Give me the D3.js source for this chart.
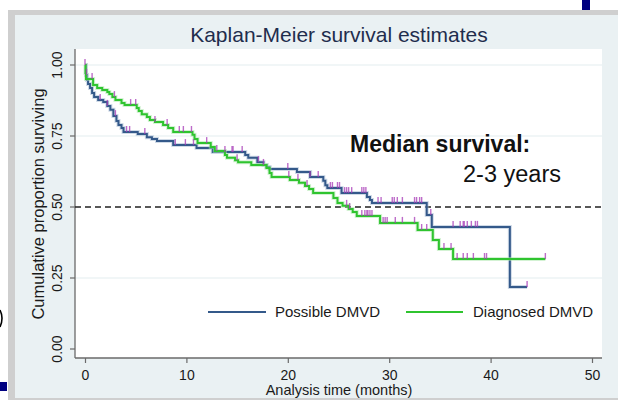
<!DOCTYPE html>
<html>
<head>
<meta charset="utf-8">
<script src="https://cdn.jsdelivr.net/npm/d3@7/dist/d3.min.js"></script>
<style>
  body { margin: 0; background: #fff; }
  svg { display: block; font-family: Arial, "Liberation Sans", sans-serif; }
</style>
</head>
<body>
<div id="chart"></div>
<script>
// Kaplan-Meier steps: time (months) where the curve drops, survival after the drop
const possibleTimes = [0, 0.1, 0.2, 0.3, 0.5, 0.7, 0.9, 1.3, 1.8, 2.2, 2.5, 2.8, 3.1, 3.3, 3.6, 3.8, 5.2, 6.1, 6.6, 7.1, 8.7,
  11.0, 12.6, 15.8, 16.1, 17.0, 17.6, 17.9, 18.2, 20.9, 22.2, 23.5, 23.7, 23.9, 25.3, 27.8, 28.1, 28.3, 33.7, 34.2, 41.9, 43.6];
const possibleSurv = [1, 0.965, 0.947, 0.933, 0.919, 0.901, 0.887, 0.877, 0.870, 0.856, 0.842, 0.820, 0.803, 0.789, 0.778, 0.764, 0.757, 0.746, 0.739, 0.732, 0.718,
  0.708, 0.694, 0.683, 0.673, 0.658, 0.648, 0.641, 0.634, 0.623, 0.606, 0.592, 0.577, 0.567, 0.549, 0.535, 0.525, 0.514, 0.472, 0.430, 0.218, 0.218];
const possibleCensored = [0.15, 1.5, 2.2, 3.0, 4.1, 4.4, 5.9, 8.9, 9.9, 10.7, 13.8, 14.5, 14.6, 15.5, 17.1, 17.6, 20.0, 22.2, 23.0,
  24.2, 24.4, 24.9, 25.1, 25.6, 25.8, 26.0, 26.3, 27.3, 27.5, 27.7, 28.9, 29.2, 30.3, 30.5, 30.8, 31.3, 32.5, 32.7, 33.0, 33.2,
  34.1, 36.3, 37.0, 37.3, 37.4, 37.7, 38.1, 38.5, 38.7, 43.6];

const diagnosedTimes = [0, 0.05, 0.1, 0.8, 1.2, 1.7, 2.2, 2.4, 2.7, 3.0, 3.6, 3.9, 5.1, 5.3, 5.6, 6.1, 6.4, 6.9, 7.7, 8.2, 8.7,
  10.6, 10.8, 11.1, 12.4, 12.8, 13.8, 14.0, 14.8, 15.1, 16.4, 17.9, 18.2, 18.4, 20.2, 21.1, 21.7, 22.1, 22.5, 24.5, 24.9, 25.4,
  26.0, 26.4, 26.8, 29.1, 32.8, 34.3, 34.9, 36.3, 45.4];
const diagnosedSurv = [1, 0.972, 0.951, 0.930, 0.919, 0.912, 0.905, 0.898, 0.887, 0.877, 0.866, 0.859, 0.849, 0.838, 0.827, 0.817, 0.806, 0.799, 0.789, 0.778, 0.764,
  0.754, 0.739, 0.725, 0.711, 0.697, 0.683, 0.673, 0.665, 0.658, 0.648, 0.637, 0.620, 0.606, 0.595, 0.585, 0.574, 0.563, 0.549, 0.532, 0.514, 0.504,
  0.493, 0.482, 0.468, 0.444, 0.419, 0.384, 0.352, 0.317, 0.317];
const diagnosedCensored = [0.0, 0.7, 2.9, 4.5, 5.0, 6.9, 8.1, 9.3, 9.7, 10.5, 12.0, 13.0, 15.0, 20.1, 21.0, 21.9, 25.8, 26.1,
  27.3, 27.6, 27.8, 27.9, 28.1, 28.3, 29.4, 29.6, 29.8, 30.6, 31.3, 32.5, 33.2, 33.7, 35.4, 36.1, 36.7, 37.3, 37.7, 38.3,
  39.4, 39.6, 45.4];

const xTicks = [0, 10, 20, 30, 40, 50];
const yTicks = [0, 0.25, 0.5, 0.75, 1];
const yGrid = [0.25, 0.75, 1];
const medianLevel = 0.5;

const width = 618, height = 400;
const svg = d3.select("#chart").append("svg")
    .attr("width", width)
    .attr("height", height);

// slide frame and graph background
svg.append("rect").attr("x", 8).attr("y", 10).attr("width", width - 8).attr("height", height - 10).attr("fill", "#cfcfcf");
svg.append("rect").attr("x", 15).attr("y", 15).attr("width", width - 15).attr("height", 383).attr("fill", "#eaf1f3");
svg.append("rect").attr("x", 582).attr("y", 0).attr("width", 8).attr("height", 10).attr("fill", "#000080");
svg.append("rect").attr("x", 0).attr("y", 382).attr("width", 7).attr("height", 9).attr("fill", "#000080");
// bit of a slide glyph cut by the left edge
svg.append("path").attr("d", "M0,310 Q4,318 0,327").attr("fill", "none").attr("stroke", "#000").attr("stroke-width", 1.6);

const plotLeft = 75, plotRight = 602, plotTop = 49, plotBottom = 358;
svg.append("rect").attr("x", plotLeft).attr("y", plotTop)
    .attr("width", plotRight - plotLeft).attr("height", plotBottom - plotTop).attr("fill", "#fff");

const x = d3.scaleLinear().domain([0, 50]).range([85, 592]);
const y = d3.scaleLinear().domain([0, 1]).range([349, 65]);

// grid
svg.selectAll(".grid").data(yGrid).enter().append("line")
    .attr("x1", plotLeft).attr("x2", plotRight)
    .attr("y1", d => y(d)).attr("y2", d => y(d))
    .attr("stroke", "#e4edf0").attr("stroke-width", 1.2);

// axes
const yAxis = svg.append("g")
    .attr("transform", `translate(${plotLeft},0)`)
    .call(d3.axisLeft(y).tickValues(yTicks).tickFormat(d3.format(".2f")).tickSize(5).tickPadding(8));
yAxis.select(".domain").attr("d", `M0,${plotTop}V${plotBottom}`);
yAxis.selectAll(".tick").attr("transform", "translate(0,0)")
    .each(function(d) {
        const g = d3.select(this);
        g.select("line").attr("y1", y(d)).attr("y2", y(d));
        g.select("text").attr("transform", "rotate(-90)")
            .attr("x", -y(d)).attr("y", -13).attr("dy", 0)
            .attr("text-anchor", "middle");
    });

const xAxis = svg.append("g")
    .attr("transform", `translate(0,${plotBottom})`)
    .call(d3.axisBottom(x).tickValues(xTicks).tickSize(5).tickPadding(7));
xAxis.select(".domain").attr("d", `M${plotLeft},0H${plotRight}`);

svg.selectAll(".domain").attr("stroke", "#6a6a6a").attr("stroke-width", 1.3);
svg.selectAll(".tick line").attr("stroke", "#6a6a6a").attr("stroke-width", 1.2);
svg.selectAll(".tick text").attr("fill", "#1a1a1a").style("font-size", "14px").style("font-family", "Arial, 'Liberation Sans', sans-serif");

// median reference line
svg.append("line")
    .attr("x1", plotLeft).attr("x2", plotRight)
    .attr("y1", y(medianLevel)).attr("y2", y(medianLevel))
    .attr("stroke", "#222").attr("stroke-width", 1.5).attr("stroke-dasharray", "6,4");

// curves
const line = d3.line()
    .x(d => x(d[0]))
    .y(d => y(d[1]))
    .curve(d3.curveStepAfter);

function survAt(times, surv, t) {
    let s = surv[0];
    for (let i = 0; i < times.length; i++) if (times[i] <= t) s = surv[i];
    return s;
}

const series = [
    { name: "Possible DMVD", times: possibleTimes, surv: possibleSurv, cens: possibleCensored, color: "#34598a", halo: "#9fb6cf" },
    { name: "Diagnosed DMVD", times: diagnosedTimes, surv: diagnosedSurv, cens: diagnosedCensored, color: "#2fc42f", halo: "#a8e6a8" }
];

series.forEach(s => {
    const pts = s.times.map((t, i) => [t, s.surv[i]]);
    svg.append("path").datum(pts).attr("d", line)
        .attr("fill", "none").attr("stroke", s.halo).attr("stroke-width", 4).attr("opacity", 0.5);
    svg.append("path").datum(pts).attr("d", line)
        .attr("fill", "none").attr("stroke", s.color).attr("stroke-width", 2);
});

series.forEach(s => {
    svg.selectAll(null).data(s.cens).enter().append("line")
        .attr("x1", d => x(d)).attr("x2", d => x(d))
        .attr("y1", d => y(survAt(s.times, s.surv, d)))
        .attr("y2", d => y(survAt(s.times, s.surv, d)) - 6)
        .attr("stroke", "#a83cb8").attr("stroke-width", 1.4).attr("opacity", 0.75);
});

// legend
const legendItems = [
    { x0: 208, x1: 266, tx: 275 },
    { x0: 406, x1: 463, tx: 473 }
];
legendItems.forEach((l, i) => {
    svg.append("line").attr("x1", l.x0).attr("x2", l.x1).attr("y1", 312).attr("y2", 312)
        .attr("stroke", series[i].color).attr("stroke-width", 2);
    svg.append("text").attr("x", l.tx).attr("y", 317).style("font-size", "15px").attr("fill", "#1a1a1a")
        .text(series[i].name);
});

// titles
svg.append("text").attr("x", 339).attr("y", 42).attr("text-anchor", "middle")
    .style("font-size", "21px").attr("fill", "#1f2d4d").text("Kaplan-Meier survival estimates");
svg.append("text").attr("x", 339).attr("y", 395).attr("text-anchor", "middle")
    .style("font-size", "14.5px").attr("fill", "#1a1a1a").text("Analysis time (months)");
svg.append("text").attr("transform", "translate(44,204) rotate(-90)").attr("text-anchor", "middle")
    .style("font-size", "16.5px").attr("fill", "#1a1a1a").text("Cumulative proportion surviving");

// annotation
svg.append("text").attr("x", 350).attr("y", 152)
    .style("font-size", "23px").style("font-weight", "bold").attr("fill", "#111").text("Median survival:");
svg.append("text").attr("x", 463).attr("y", 182)
    .style("font-size", "23.5px").attr("fill", "#111").text("2-3 years");
</script>
</body>
</html>
